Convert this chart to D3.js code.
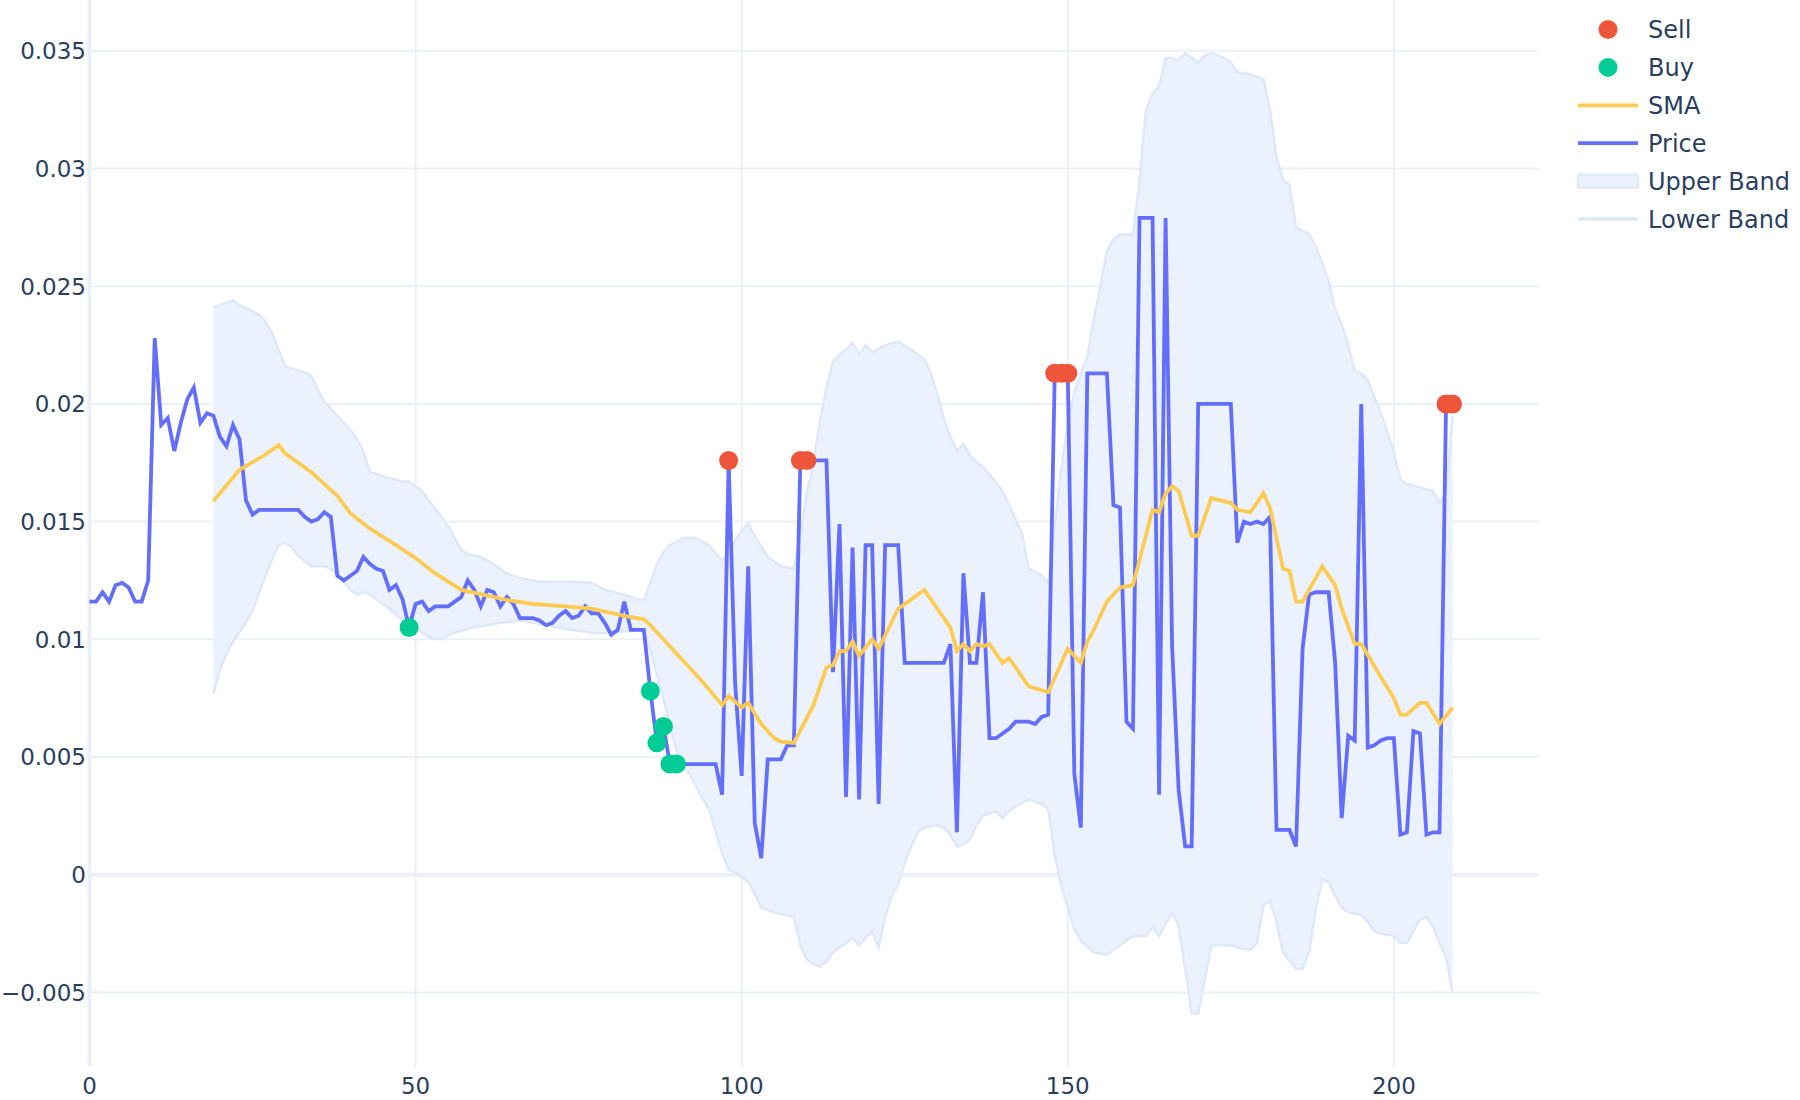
<!DOCTYPE html>
<html><head><meta charset="utf-8">
<script src="https://cdn.jsdelivr.net/npm/d3@7"></script>
<style>html,body{margin:0;padding:0;background:#fff}svg{display:block}</style>
</head><body>
<script>
// ---------- data ----------
const price = [
0.0116,0.0116,0.0120,0.0116,0.0123,0.0124,0.0122,0.0116,0.0116,0.0125,
0.0228,0.0191,0.0194,0.0180,0.0192,0.0202,0.0207,0.0192,0.0196,0.0195,
0.0186,0.0182,0.0191,0.0185,0.0159,0.0153,0.0155,0.0155,0.0155,0.0155,
0.0155,0.0155,0.0155,0.0152,0.0150,0.0151,0.0154,0.0152,0.0127,0.0125,
0.0127,0.0129,0.0135,0.0132,0.0130,0.0129,0.0121,0.0123,0.0117,0.0105,
0.0115,0.0116,0.0112,0.0114,0.0114,0.0114,0.0116,0.0118,0.0125,0.0121,
0.0114,0.0121,0.0120,0.0114,0.0118,0.0115,0.0109,0.0109,0.0109,0.0108,
0.0106,0.0107,0.0110,0.0112,0.0109,0.0110,0.0114,0.0111,0.0111,0.0107,
0.0102,0.0104,0.0116,0.0104,0.0104,0.0104,0.0078,0.0056,0.0063,0.0047,
0.0047,0.0047,0.0047,0.0047,0.0047,0.0047,0.0047,0.0034,0.0176,0.0081,
0.0042,0.0131,0.0022,0.0007,0.0049,0.0049,0.0049,0.0055,0.0055,0.0176,
0.0176,0.0176,0.0176,0.0176,0.0086,0.0149,0.0033,0.0139,0.0032,0.0140,
0.0140,0.0030,0.0140,0.0140,0.0140,0.0090,0.0090,0.0090,0.0090,0.0090,
0.0090,0.0090,0.0098,0.0018,0.0128,0.0090,0.0090,0.0120,0.0058,0.0058,
0.0060,0.0062,0.0065,0.0065,0.0065,0.0064,0.0067,0.0068,0.0213,0.0213,
0.0213,0.0043,0.0020,0.0213,0.0213,0.0213,0.0213,0.0157,0.0156,0.0065,
0.0062,0.0279,0.0279,0.0279,0.0034,0.0279,0.0097,0.0036,0.0012,0.0012,
0.0200,0.0200,0.0200,0.0200,0.0200,0.0200,0.0141,0.0150,0.0149,0.0150,
0.0149,0.0152,0.0019,0.0019,0.0019,0.0012,0.0096,0.0119,0.0120,0.0120,
0.0120,0.0090,0.0024,0.0059,0.0057,0.0200,0.0054,0.0055,0.0057,0.0058,
0.0058,0.0017,0.0018,0.0061,0.0060,0.0017,0.0018,0.0018,0.0200,0.0200
];

const sellPoints = [[98,0.0176],[109,0.0176],[110,0.0176],[148,0.0213],[149,0.0213],[150,0.0213],[208,0.0200],[209,0.0200]];
const buyPoints = [[49,0.0105],[86,0.0078],[87,0.0056],[88,0.0063],[89,0.0047],[90,0.0047]];

const sma = [
[19,0.01587],[23,0.0172],[27,0.01785],[29,0.01825],[30,0.0179],[34,0.0171],[38,0.0161],[40,0.01535],
[43,0.0147],[47,0.0140],[50,0.01345],[53,0.0128],[57,0.0121],[60,0.01192],[64,0.01167],[68,0.0115],
[73,0.0114],[77,0.0113],[82,0.0110],[85,0.01085],[86,0.0106],[90,0.0094],[94,0.0082],[97,0.0072],
[98,0.0076],[100,0.0071],[101,0.0073],[103,0.0064],[105,0.0058],[106,0.00565],[108,0.0056],[111,0.0072],
[113,0.0088],[114,0.0089],[115,0.0095],[116,0.0095],[117,0.0099],[118,0.0093],[120,0.0100],[121,0.0096],
[124,0.0113],[128,0.0121],[132,0.0105],[133,0.0095],[134,0.0098],[135,0.0095],[136,0.0098],[137,0.0097],
[138,0.0098],[140,0.0090],[141,0.0092],[144,0.0080],[147,0.00775],[150,0.0096],[152,0.0090],[153,0.0099],
[154,0.0104],[156,0.0116],[157,0.0119],[158,0.0122],[160,0.0123],[163,0.0155],[164,0.0154],[165,0.0162],
[166,0.0165],[167,0.0163],[169,0.0144],[170,0.0144],[172,0.0160],[175,0.0158],[176,0.0155],[178,0.0154],
[180,0.0162],[181,0.0156],[183,0.0130],[184,0.0129],[185,0.0116],[186,0.0116],[189,0.0131],[191,0.0123],
[192,0.0113],[194,0.0098],[195,0.0098],[198,0.0084],[200,0.0075],[201,0.0068],[202,0.0068],[204,0.0073],
[205,0.0073],[207,0.0064],[209,0.0071]
];

const upperBand = [
[19,0.0241],[22,0.0244],[23,0.0242],[26,0.0238],[27,0.0235],[28,0.0230],[29,0.0223],[30,0.0216],
[31,0.0215],[33,0.02135],[34,0.0212],[35,0.0206],[36,0.0201],[37,0.0198],[39,0.0192],[40,0.0189],
[41,0.0185],[42,0.0180],[43,0.0171],[46,0.01685],[48,0.0167],[49,0.0167],[50,0.0165],[51,0.0163],
[52,0.0159],[54,0.0152],[55,0.0148],[56,0.0143],[57,0.0138],[58,0.0136],[60,0.0135],[62,0.0132],
[64,0.0128],[66,0.0126],[69,0.01245],[74,0.01245],[77,0.0124],[79,0.0121],[82,0.0119],[84,0.0117],
[85,0.01165],[86,0.0124],[87,0.0132],[88,0.0137],[89,0.0140],[91,0.0143],[93,0.0143],[95,0.0140],
[97,0.01335],[98,0.0136],[99,0.0142],[100,0.0146],[101,0.0149],[102,0.0144],[104,0.0135],[106,0.0131],
[108,0.0130],[109,0.0145],[110,0.0162],[111,0.0175],[112,0.0193],[113,0.0207],[114,0.0218],[115,0.0221],
[116,0.0223],[117,0.0226],[118,0.0221],[119,0.0225],[120,0.0222],[122,0.0225],[124,0.02265],[126,0.0223],
[128,0.0219],[129,0.0213],[130,0.0204],[131,0.0194],[132,0.0186],[133,0.0180],[134,0.0183],[135,0.0178],
[137,0.0173],[138,0.0170],[140,0.0163],[141,0.0157],[143,0.0145],[144,0.0130],[146,0.0127],[147,0.0124],
[148,0.0148],[149,0.0172],[150,0.0192],[151,0.0205],[152,0.0213],[153,0.0220],[154,0.0236],[155,0.0250],
[156,0.0265],[157,0.0270],[158,0.0272],[160,0.0272],[161,0.0295],[162,0.0325],[163,0.0332],[164,0.0335],
[165,0.0347],[166,0.0347],[167,0.0346],[168,0.0349],[169,0.0347],[170,0.0345],[171,0.0348],[172,0.0349],
[174,0.0347],[175,0.0345],[176,0.0341],[178,0.0340],[180,0.0338],[181,0.0325],[182,0.0305],[183,0.0295],
[184,0.0293],[185,0.0275],[187,0.0272],[188,0.0267],[189,0.0260],[190,0.0252],[191,0.0240],[192,0.0234],
[193,0.0225],[194,0.0214],[195,0.0213],[196,0.0210],[197,0.0203],[198,0.0196],[199,0.0188],[200,0.0179],
[201,0.0168],[202,0.0166],[204,0.01645],[206,0.0163],[207,0.0158],[208,0.0162],[209,0.0195]
];

const lowerBand = [
[19,0.0077],[20,0.0087],[21,0.0094],[22,0.0099],[23,0.0103],[25,0.0112],[26,0.0120],[27,0.0127],
[28,0.0134],[29,0.0140],[30,0.0141],[31,0.0139],[32,0.01355],[34,0.0131],[36,0.0131],[37,0.0130],
[39,0.01245],[40,0.0121],[41,0.0119],[42,0.0120],[43,0.0119],[44,0.0117],[45,0.0115],[46,0.0113],
[48,0.0108],[50,0.0105],[52,0.0101],[54,0.0100],[56,0.0103],[59,0.0105],[63,0.0107],[66,0.0108],
[70,0.0106],[74,0.0104],[78,0.01025],[81,0.0103],[84,0.0104],[85,0.0103],[86,0.0095],[87,0.0085],
[88,0.0075],[89,0.0063],[90,0.0053],[91,0.0046],[92,0.0043],[94,0.0032],[95,0.0028],[96,0.0018],
[97,0.0009],[98,0.0002],[99,0.0001],[100,-0.0001],[101,-0.0003],[102,-0.0008],[103,-0.0014],[105,-0.0016],
[108,-0.0018],[109,-0.0030],[110,-0.0036],[111,-0.0038],[112,-0.0039],[113,-0.0037],[114,-0.0033],[115,-0.0031],
[116,-0.0029],[117,-0.0027],[118,-0.0030],[119,-0.0027],[120,-0.0024],[121,-0.0031],[122,-0.0018],[123,-0.0009],
[124,-0.0004],[125,0.0005],[126,0.0012],[127,0.0018],[128,0.0020],[130,0.0021],[131,0.0020],[132,0.0017],
[133,0.0012],[134,0.0013],[135,0.0015],[136,0.0021],[137,0.0025],[139,0.0027],[140,0.0024],[141,0.0027],
[142,0.0029],[144,0.0032],[146,0.0030],[147,0.0028],[148,0.0008],[149,-0.0005],[150,-0.0014],[151,-0.0023],
[152,-0.0028],[154,-0.0033],[156,-0.0034],[158,-0.0030],[160,-0.0026],[162,-0.0026],[163,-0.0022],[164,-0.0026],
[166,-0.0016],[167,-0.0022],[168,-0.0040],[169,-0.0059],[170,-0.0059],[171,-0.0045],[172,-0.0030],[175,-0.0030],
[176,-0.0031],[178,-0.0032],[179,-0.0029],[180,-0.0013],[181,-0.0011],[182,-0.0020],[183,-0.0033],[185,-0.0040],
[186,-0.0040],[187,-0.0033],[188,-0.0015],[189,-0.0002],[190,-0.0003],[191,-0.0009],[192,-0.0014],[193,-0.0016],
[195,-0.0017],[196,-0.0020],[197,-0.0024],[198,-0.0025],[200,-0.0026],[201,-0.0029],[202,-0.0029],[203,-0.0024],
[204,-0.0019],[205,-0.0018],[206,-0.0022],[207,-0.0029],[208,-0.0035],[209,-0.0050]
];

const yTicks = [-0.005, 0, 0.005, 0.01, 0.015, 0.02, 0.025, 0.03, 0.035];
const xTicks = [0, 50, 100, 150, 200];
const legendNames = ["Sell", "Buy", "SMA", "Price", "Upper Band", "Lower Band"];

// ---------- styling ----------
const W = 1800, H = 1100;
const plot = {left: 89.5, right: 1538, top: 0, bottom: 1067};
const C = {
  text: "#2a3f5f", grid: "#ebf0f8",
  price: "#636efa", sma: "#fecb52", sell: "#ef553b", buy: "#00cc96",
  bandFill: "#ebf2fd", bandLine: "#dfe8fa"
};
const FONT = "'DejaVu Sans', Verdana, sans-serif";
const FS = 23;
const LFS = 24;

const svg = d3.select("body").append("svg").attr("width", W).attr("height", H);

const x = d3.scaleLinear().domain([0, 222.1]).range([plot.left, plot.right]);
const y = d3.scaleLinear().domain([-0.00817, 0.03716]).range([plot.bottom, plot.top]);

// grid
const g = svg.append("g");
g.selectAll(".xg").data(xTicks.filter(t => t !== 0)).join("line")
  .attr("x1", d => x(d)).attr("x2", d => x(d)).attr("y1", plot.top).attr("y2", plot.bottom)
  .attr("stroke", C.grid).attr("stroke-width", 2);
g.selectAll(".yg").data(yTicks.filter(t => t !== 0)).join("line")
  .attr("x1", plot.left).attr("x2", plot.right).attr("y1", d => y(d)).attr("y2", d => y(d))
  .attr("stroke", C.grid).attr("stroke-width", 2);
// zero lines
g.append("line").attr("x1", plot.left).attr("x2", plot.right).attr("y1", y(0)).attr("y2", y(0))
  .attr("stroke", C.grid).attr("stroke-width", 4);
g.append("line").attr("x1", x(0)).attr("x2", x(0)).attr("y1", plot.top).attr("y2", plot.bottom)
  .attr("stroke", C.grid).attr("stroke-width", 4);

// tick labels
const fmt = v => v === 0 ? "0" : (v < 0 ? "\u2212" + String(Math.abs(v)) : String(v));
svg.append("g").selectAll("text").data(yTicks).join("text")
  .attr("x", 86).attr("y", d => y(d) + 8.3).attr("text-anchor", "end")
  .attr("font-family", FONT).attr("font-size", FS).attr("fill", C.text).text(fmt);
svg.append("g").selectAll("text").data(xTicks).join("text")
  .attr("x", d => x(d)).attr("y", 1093.5).attr("text-anchor", "middle")
  .attr("font-family", FONT).attr("font-size", FS).attr("fill", C.text).text(d => String(d));

// band
const line = d3.line().x(d => x(d[0])).y(d => y(d[1]));
const bandPoly = upperBand.concat(lowerBand.slice().reverse());
svg.append("path").attr("d", line(bandPoly) + "Z").attr("fill", C.bandFill).attr("stroke", "none");
svg.append("path").attr("d", line(lowerBand)).attr("fill", "none").attr("stroke", C.bandLine).attr("stroke-width", 2.5);
svg.append("path").attr("d", line(upperBand)).attr("fill", "none").attr("stroke", C.bandLine).attr("stroke-width", 2.5);

// price
svg.append("path").attr("d", line(price.map((v, i) => [i, v])))
  .attr("fill", "none").attr("stroke", C.price).attr("stroke-width", 3.8);
// SMA
svg.append("path").attr("d", line(sma))
  .attr("fill", "none").attr("stroke", C.sma).attr("stroke-width", 3.8);

// markers
svg.append("g").selectAll("circle").data(buyPoints).join("circle")
  .attr("cx", d => x(d[0])).attr("cy", d => y(d[1])).attr("r", 9.5).attr("fill", C.buy);
svg.append("g").selectAll("circle").data(sellPoints).join("circle")
  .attr("cx", d => x(d[0])).attr("cy", d => y(d[1])).attr("r", 9.5).attr("fill", C.sell);

// legend
const lg = svg.append("g");
const ly0 = 29.5, ldy = 37.9, lx0 = 1578, lx1 = 1638, ltx = 1648;
legendNames.forEach((name, i) => {
  const cy = ly0 + i * ldy;
  if (name === "Sell" || name === "Buy") {
    lg.append("circle").attr("cx", (lx0 + lx1) / 2).attr("cy", cy).attr("r", 9.5)
      .attr("fill", name === "Sell" ? C.sell : C.buy);
  } else if (name === "SMA" || name === "Price") {
    lg.append("line").attr("x1", lx0).attr("x2", lx1).attr("y1", cy).attr("y2", cy)
      .attr("stroke", name === "SMA" ? C.sma : C.price).attr("stroke-width", 3.8);
  } else if (name === "Upper Band") {
    lg.append("rect").attr("x", lx0).attr("y", cy - 6.5).attr("width", lx1 - lx0).attr("height", 13)
      .attr("fill", C.bandFill).attr("stroke", C.bandLine).attr("stroke-width", 2);
  } else {
    lg.append("line").attr("x1", lx0).attr("x2", lx1).attr("y1", cy).attr("y2", cy)
      .attr("stroke", C.bandLine).attr("stroke-width", 3.5);
  }
  lg.append("text").attr("x", ltx).attr("y", cy + 8.6)
    .attr("font-family", FONT).attr("font-size", LFS).attr("fill", C.text).text(name);
});
</script>
</body></html>
